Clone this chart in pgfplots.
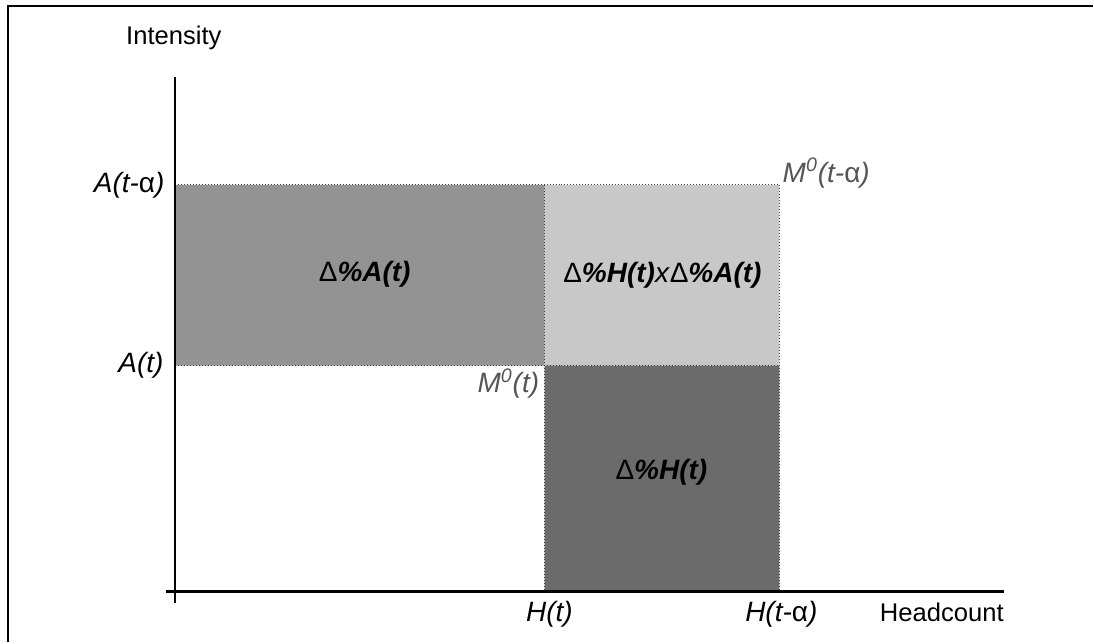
\documentclass[border=0pt]{standalone}
\usepackage{pgfplots}
\pgfplotsset{compat=1.18}
\usepackage{fontspec}
\setmainfont{Liberation Sans}
\definecolor{midg}{HTML}{939393}
\definecolor{lightg}{HTML}{C8C8C8}
\definecolor{darkg}{HTML}{6B6B6B}
\definecolor{lblg}{HTML}{555555}
\begin{document}
\begin{tikzpicture}
\begin{axis}[
  scale only axis, width=547pt, height=321.5pt,
  xmin=0, xmax=1094, ymin=0, ymax=643,
  hide axis, clip=false,
]
% invisible bounding box
\path (axis cs:0,0) rectangle (axis cs:1094,643);
% frame (left and top)
\draw[line width=1pt] (axis cs:8,0) -- (axis cs:8,637) -- (axis cs:1094,637);
% rectangles
\addplot[fill=midg, draw=none] coordinates {(175,458) (545,458) (545,277) (175,277) (175,458)};
\addplot[fill=lightg, draw=none] coordinates {(545,458) (780,458) (780,277) (545,277) (545,458)};
\addplot[fill=darkg, draw=none] coordinates {(545,277) (780,277) (780,51) (545,51) (545,277)};
% dotted borders
\addplot[densely dotted, color=black!75, line width=0.5pt] coordinates {(175,458) (780,458)};
\addplot[densely dotted, color=black!75, line width=0.5pt] coordinates {(175,277) (780,277)};
\addplot[densely dotted, color=black!75, line width=0.5pt] coordinates {(545,458) (545,51)};
\addplot[densely dotted, color=black!75, line width=0.5pt] coordinates {(780,458) (780,51)};
% axes
\draw[line width=1.3pt] (axis cs:175,566) -- (axis cs:175,39);
\draw[line width=1.3pt] (axis cs:166,51) -- (axis cs:1005,51);
% axis titles
\node[font=\fontsize{12.8}{14}\selectfont] at (axis cs:174,605) {Intensity};
\node[font=\fontsize{12.8}{14}\selectfont, anchor=east, inner sep=0pt] at (axis cs:1005,30) {Headcount};
% tick labels
\node[font=\fontsize{14}{16}\selectfont\itshape, anchor=east, inner sep=0pt] at (axis cs:165,458) {A(t-\textup{α})};
\node[font=\fontsize{14}{16}\selectfont\itshape, anchor=east, inner sep=0pt] at (axis cs:164,277) {A(t)};
\node[font=\fontsize{14}{16}\selectfont\itshape] at (axis cs:550,28) {H(t)};
\node[font=\fontsize{14}{16}\selectfont\itshape] at (axis cs:782,28) {H(t-\textup{α})};
% M labels
\node[font=\fontsize{14}{16}\selectfont\itshape, text=lblg, anchor=east, inner sep=0pt] at (axis cs:540,259) {M\textsuperscript{0}(t)};
\node[font=\fontsize{14}{16}\selectfont\itshape, text=lblg, anchor=west, inner sep=0pt] at (axis cs:783,470) {M\textsuperscript{0}(t-\textup{α})};
% region labels
\node[font=\fontsize{14}{16}\selectfont\bfseries\itshape] at (axis cs:365,368) {\textup{\mdseries Δ}\%A(t)};
\node[font=\fontsize{14}{16}\selectfont\bfseries\itshape] at (axis cs:663,367) {\textup{\mdseries Δ}\%H(t){\mdseries x}\textup{\mdseries Δ}\%A(t)};
\node[font=\fontsize{14}{16}\selectfont\bfseries\itshape] at (axis cs:662,170) {\textup{\mdseries Δ}\%H(t)};
\end{axis}
\end{tikzpicture}
\end{document}
